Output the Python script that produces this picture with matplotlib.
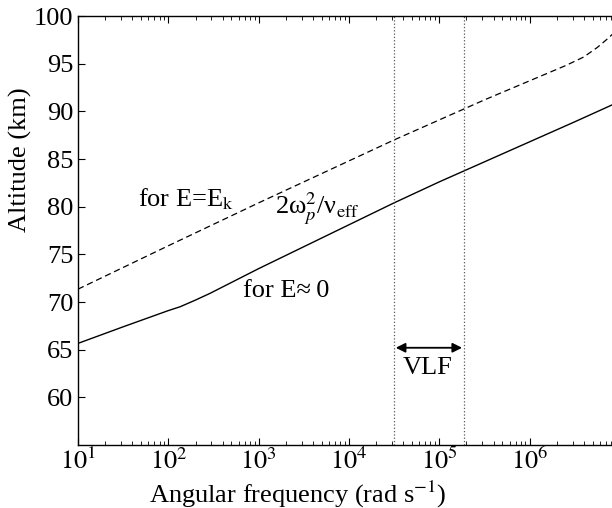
import numpy as np
import matplotlib
matplotlib.use("Agg")
import matplotlib.pyplot as plt

plt.rcParams['font.family'] = ['Liberation Serif', 'DejaVu Serif']
plt.rcParams['mathtext.fontset'] = 'stix'

# solid curve, E ~ 0 (log10 of angular frequency, altitude km)
logw_zero = [1.0, 1.5, 2.0, 2.13, 2.3, 2.46, 3.0, 3.5, 4.0, 4.5, 5.0, 5.5, 6.0, 6.5, 6.92]
alt_zero = [65.66, 67.4, 69.1, 69.5, 70.2, 70.9, 73.5, 75.8, 78.1, 80.4, 82.6, 84.7, 86.8, 88.9, 90.7]

# dashed curve, E = E_k
logw_ek = [1.0, 2.0, 3.0, 4.0, 4.5, 5.0, 5.5, 6.0, 6.4, 6.6, 6.75, 6.85, 6.92]
alt_ek = [71.35, 75.9, 80.4, 84.8, 87.0, 89.1, 91.2, 93.2, 94.8, 95.7, 96.7, 97.5, 98.1]

# VLF band edges (rad/s)
vlf_band = [2 * np.pi * 5e3, 2 * np.pi * 30e3]

fig = plt.figure(figsize=(6.12, 5.08), dpi=100)
ax = fig.add_axes([0.1275, 0.124, 0.8725, 0.8445])

ax.plot(10 ** np.array(logw_zero), alt_zero, 'k-', lw=1.0)
ax.plot(10 ** np.array(logw_ek), alt_ek, 'k--', lw=0.9, dashes=(5, 3))

for w in vlf_band:
    ax.axvline(w, color='0.35', ls=':', lw=0.9)

ax.annotate('', xy=(vlf_band[0] * 1.05, 65.2), xytext=(vlf_band[1] * 0.95, 65.2),
            arrowprops=dict(arrowstyle='<|-|>', color='k', lw=1.3, mutation_scale=14,
                            shrinkA=0, shrinkB=0))
ax.text(7.46e4, 62.4, 'VLF', fontsize=19, ha='center', va='baseline')

ax.text(46.5, 80.0, r'for E=E$_\mathrm{k}$', fontsize=19, va='baseline')
ax.text(1.5e3, 79.3, r'2ω$_{p}^{2}$/ν$_{\mathrm{eff}}$', fontsize=19, va='baseline')
ax.text(676, 70.5, 'for E\u2248\u20090', fontsize=19, va='baseline')

ax.set_xscale('log')
ax.set_xlim(10, 10 ** 6.913)
ax.set_ylim(55, 100)
ax.set_yticks([60, 65, 70, 75, 80, 85, 90, 95, 100])
ax.set_xticks([1e1, 1e2, 1e3, 1e4, 1e5, 1e6])
ax.set_xticklabels([r'$10^{%d}$' % k for k in range(1, 7)])

ax.tick_params(which='both', direction='in', top=True, right=False, labelsize=19)
ax.tick_params(which='major', length=5, width=0.8)
ax.tick_params(which='minor', length=3, width=0.6)
ax.tick_params(axis='x', pad=2)
ax.spines['right'].set_visible(False)
for s in ['left', 'top', 'bottom']:
    ax.spines[s].set_linewidth(1.0)

ax.set_xlabel(r'Angular frequency (rad s$^{\mathrm{-1}}$)', fontsize=19)
ax.set_ylabel('Altitude (km)', fontsize=19)
ax.xaxis.set_label_coords(0.412, -0.078)
ax.yaxis.set_label_coords(-0.086, 0.664)

fig.savefig('out.png', dpi=100)
